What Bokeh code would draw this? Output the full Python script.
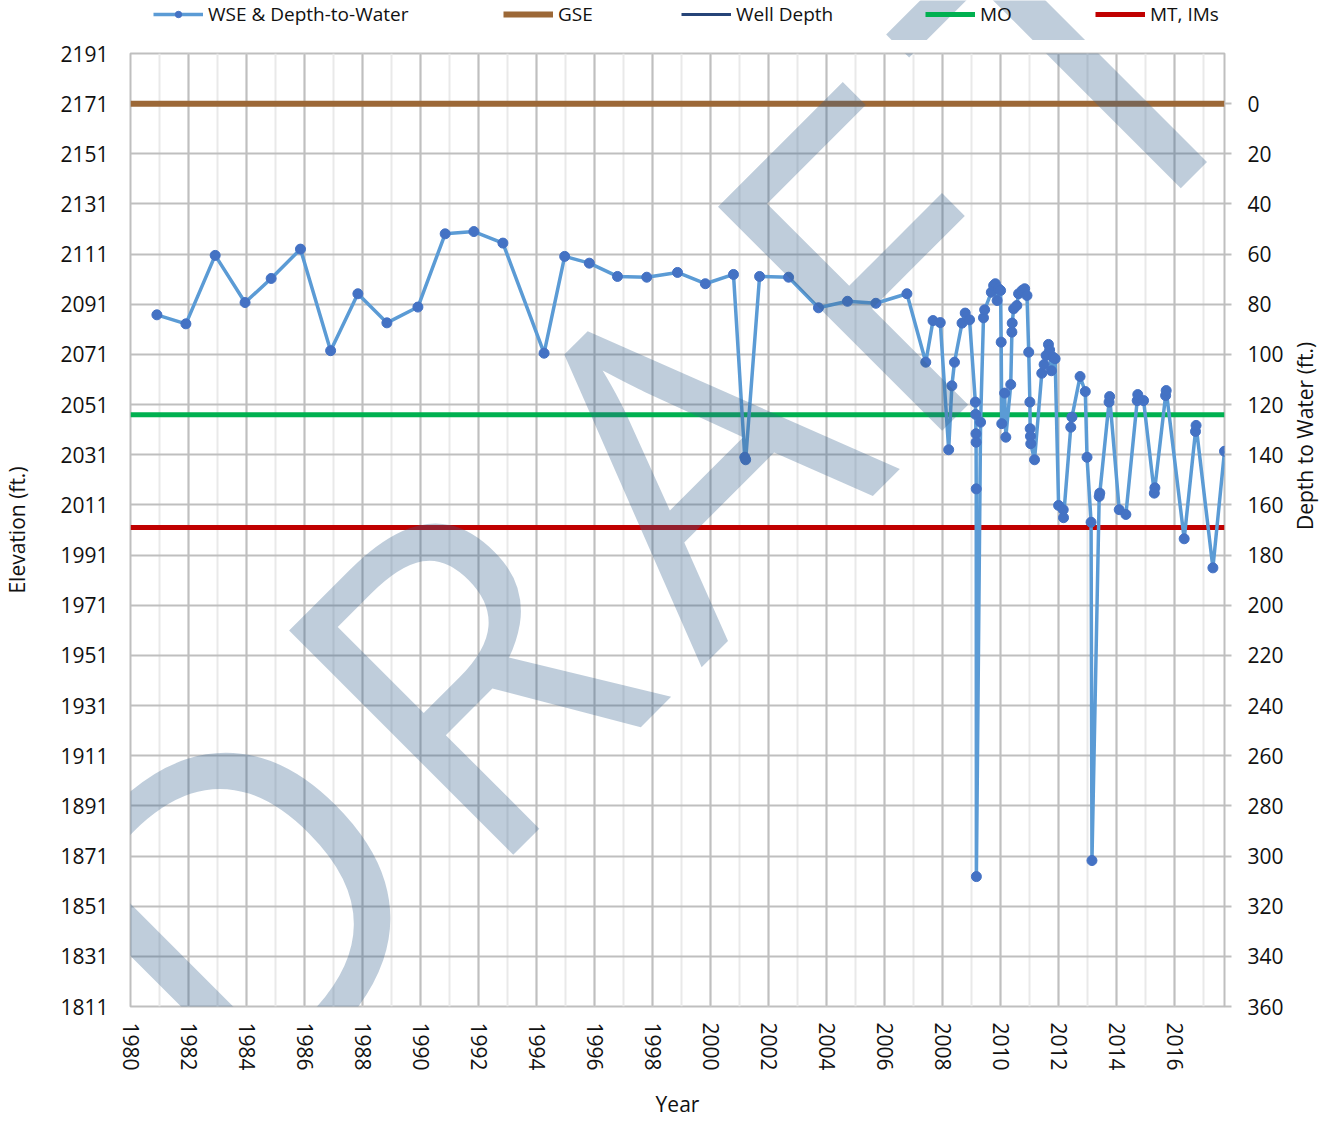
import math
from bokeh.plotting import figure
from bokeh.layouts import column
from bokeh.models import (Range1d, LinearAxis, FixedTicker, Legend, LegendItem,
                          Label, ColumnDataSource)
from bokeh.embed import file_html
from bokeh.resources import INLINE

# ---------------- data ----------------
years = [
    1980.91, 1981.91, 1982.92, 1983.95, 1984.85, 1985.86, 1986.90, 1987.84, 1988.84, 1989.91,
    1990.85, 1991.84, 1992.84, 1994.26, 1994.97, 1995.82, 1996.79, 1997.80, 1998.86, 1999.82,
    2000.79, 2001.18, 2001.21, 2001.69, 2002.69, 2003.72, 2004.72, 2005.70, 2006.77,
    2007.42, 2007.67, 2007.92, 2008.21, 2008.32, 2008.41, 2008.67, 2008.78, 2008.93,
    2009.13, 2009.14, 2009.15, 2009.155, 2009.16, 2009.165, 2009.31, 2009.41, 2009.45,
    2009.68, 2009.76, 2009.82, 2009.88, 2009.93, 2010.00, 2010.02, 2010.04, 2010.14, 2010.18,
    2010.35, 2010.39, 2010.40, 2010.45, 2010.56, 2010.62, 2010.74, 2010.83, 2010.91, 2010.97,
    2011.01, 2011.02, 2011.03, 2011.04, 2011.17, 2011.42, 2011.50, 2011.57, 2011.65, 2011.69,
    2011.75, 2011.81, 2011.88,
    2012.00, 2012.16, 2012.17, 2012.42, 2012.46, 2012.74, 2012.92, 2012.98, 2013.12, 2013.15,
    2013.40, 2013.42, 2013.74, 2013.76, 2014.09, 2014.32, 2014.71, 2014.73, 2014.93, 2015.30,
    2015.32,
    2015.69, 2015.71, 2016.33, 2016.72, 2016.74, 2017.32, 2017.72,
]
wse = [
    2086.8, 2083.2, 2110.5, 2091.7, 2101.3, 2113.0, 2072.5, 2095.2, 2083.6, 2089.9,
    2119.1, 2120.0, 2115.4, 2071.5, 2110.1, 2107.4, 2102.1, 2101.8, 2103.7, 2099.2,
    2102.9, 2030.0, 2029.0, 2102.1, 2101.8, 2089.6, 2092.2, 2091.4, 2095.2,
    2067.9, 2084.5, 2083.7, 2033.0, 2058.5, 2067.9, 2083.5, 2087.5, 2084.8,
    2052.0, 2047.1, 2039.4, 2036.0, 2017.4, 1862.8, 2044.0, 2085.6, 2088.8,
    2095.8, 2098.5, 2099.2, 2092.5, 2097.2, 2096.5, 2075.9, 2043.4, 2055.6, 2038.0,
    2059.0, 2079.9, 2083.5, 2089.2, 2090.5, 2095.2, 2096.5, 2097.2, 2094.5, 2071.9,
    2052.0, 2041.4, 2038.4, 2035.4, 2029.0, 2063.5, 2067.0, 2070.6, 2075.0, 2072.8,
    2064.5, 2069.9, 2069.3,
    2010.8, 2009.1, 2005.9, 2042.0, 2046.0, 2062.2, 2056.2, 2030.0, 2004.1, 1869.2,
    2014.4, 2015.7, 2052.0, 2054.2, 2009.1, 2007.2, 2052.6, 2055.0, 2052.6, 2015.7,
    2017.8,
    2054.6, 2056.6, 1997.5, 2040.3, 2042.7, 1985.9, 2032.4,
]
GSE = 2171          # ground surface elevation
MO = 2047           # measurable objective
MT = 2002           # minimum threshold / interim milestones

series_labels = ["WSE & Depth-to-Water", "GSE", "Well Depth", "MO", "MT, IMs"]

x_start, x_end = 1980, years[-1]
y_bottom, y_top = 1811, 2191
elev_ticks = list(range(1811, 2192, 20))
depth_ticks = list(range(0, 361, 20))
year_major = list(range(1980, 2018, 2))
year_minor = list(range(1980, 2018))

FONT = "Open Sans"
TXT = "#111111"
GRID = "#BFBFBF"
C_WSE_LINE, C_WSE_MARK = "#5B9BD5", "#4472C4"
C_GSE, C_WELL, C_MO, C_MT = "#9C6837", "#264478", "#00B050", "#C00000"
WM_COLOR, WM_ALPHA, WM_SIZE = "#38638F", 0.32, "444px"

frame_w, frame_h = 1094, 953
BORDER_L, BORDER_R = 128, 100
LEG_H = 40          # height of the legend strip above the chart
TOP_PAD = 13        # space between legend strip and frame

# ---------------- main chart ----------------
p = figure(frame_width=frame_w, frame_height=frame_h,
           x_range=Range1d(x_start, x_end), y_range=Range1d(y_bottom, y_top),
           output_backend="svg", toolbar_location=None,
           min_border_left=BORDER_L, min_border_right=BORDER_R,
           min_border_top=TOP_PAD, min_border_bottom=100)
p.background_fill_color = "white"
p.border_fill_color = "white"
p.outline_line_color = GRID
p.outline_line_width = 2

p.xaxis.ticker = FixedTicker(ticks=year_major, minor_ticks=year_minor)
p.yaxis.ticker = FixedTicker(ticks=elev_ticks)
p.xgrid.grid_line_color = GRID
p.xgrid.grid_line_width = 2
p.xgrid.minor_grid_line_color = "#E9E9E9"
p.xgrid.minor_grid_line_width = 2
p.ygrid.grid_line_color = GRID
p.ygrid.grid_line_width = 2

ax = p.yaxis[0]
ax.axis_label = "Elevation (ft.)"
ax.axis_line_color = None
ax.major_tick_line_color = None
ax.major_tick_out = 0
ax.major_tick_in = 0
ax.minor_tick_line_color = None
ax.minor_tick_out = 0
ax.major_label_standoff = 22
ax.axis_label_standoff = 26

bx = p.xaxis[0]
bx.axis_label = "Year"
bx.axis_line_color = None
bx.major_tick_line_color = None
bx.major_tick_out = 0
bx.major_tick_in = 0
bx.minor_tick_line_color = None
bx.minor_tick_out = 0
bx.major_label_orientation = "vertical"
bx.major_label_standoff = 16
bx.axis_label_standoff = 16

p.extra_y_ranges = {"depth": Range1d(start=GSE - y_bottom, end=GSE - y_top)}
rx = LinearAxis(y_range_name="depth", ticker=FixedTicker(ticks=depth_ticks),
                axis_label="Depth to Water (ft.)")
rx.axis_line_color = None
rx.major_tick_in = 0
rx.major_tick_out = 7
rx.major_tick_line_color = GRID
rx.major_tick_line_width = 2
rx.minor_tick_line_color = None
rx.minor_tick_out = 0
rx.major_label_standoff = 16
rx.axis_label_standoff = 18
rx.axis_label_orientation = math.pi / 2
p.add_layout(rx, "right")

for a in (ax, bx, rx):
    a.major_label_text_font = FONT
    a.major_label_text_font_size = "21px"
    a.major_label_text_color = TXT
    a.axis_label_text_font = FONT
    a.axis_label_text_font_size = "21px"
    a.axis_label_text_font_style = "normal"
    a.axis_label_text_color = TXT

p.line([x_start, x_end], [GSE, GSE], line_color=C_GSE, line_width=6)
p.line([x_start, x_end], [MO, MO], line_color=C_MO, line_width=5)
p.line([x_start, x_end], [MT, MT], line_color=C_MT, line_width=5)
src = ColumnDataSource(dict(x=years, y=wse))
p.line("x", "y", source=src, line_color=C_WSE_LINE, line_width=3.5)
p.scatter("x", "y", source=src, size=10, fill_color=C_WSE_MARK, line_color=C_WSE_MARK)

# watermark "DRAFT": anchors as pixel offsets from the frame's top-left corner
def frame_px_to_data(px, py):
    return (x_start + px / frame_w * (x_end - x_start),
            y_top - py / frame_h * (y_top - y_bottom))

wm_letters = [("D", 102.5, 838.5), ("R", 327.0, 613.0), ("A", 548.4, 392.6),
              ("F", 740.0, 205.0), ("T", 941.5, -0.5)]

def wm_label(ch, x, y):
    return Label(x=x, y=y, text=ch, angle=math.pi / 4,
                 text_align="center", text_baseline="alphabetic",
                 text_font=FONT, text_font_size=WM_SIZE,
                 text_color=WM_COLOR, text_alpha=WM_ALPHA)

for ch, px, py in wm_letters:
    xd, yd = frame_px_to_data(px, py)
    p.add_layout(wm_label(ch, xd, yd))

# ---------------- legend strip (frame aligned with the chart frame) ----------------
lg = figure(frame_width=frame_w, frame_height=LEG_H,
            x_range=Range1d(0, frame_w), y_range=Range1d(LEG_H, 0),
            output_backend="svg", toolbar_location=None,
            x_axis_type=None, y_axis_type=None,
            min_border_left=BORDER_L, min_border_right=BORDER_R,
            min_border_top=0, min_border_bottom=0)
lg.outline_line_color = None
lg.xgrid.visible = False
lg.ygrid.visible = False

nan = float("nan")
g_wse_l = lg.line(x=[nan], y=[nan], line_color=C_WSE_LINE, line_width=3.5)
g_wse_m = lg.scatter(x=[nan], y=[nan], size=10, fill_color=C_WSE_MARK, line_color=C_WSE_MARK)
g_gse = lg.line(x=[nan], y=[nan], line_color=C_GSE, line_width=6)
g_well = lg.line(x=[nan], y=[nan], line_color=C_WELL, line_width=3)
g_mo = lg.line(x=[nan], y=[nan], line_color=C_MO, line_width=5)
g_mt = lg.line(x=[nan], y=[nan], line_color=C_MT, line_width=5)

legend_spec = [
    (series_labels[0], [g_wse_l, g_wse_m], 23),
    (series_labels[1], [g_gse], 373),
    (series_labels[2], [g_well], 551),
    (series_labels[3], [g_mo], 795),
    (series_labels[4], [g_mt], 965),
]
for lab, rends, off in legend_spec:
    lg.add_layout(Legend(items=[LegendItem(label=lab, renderers=rends)],
                         location=(off, 13), orientation="horizontal",
                         background_fill_alpha=0, border_line_alpha=0,
                         padding=0, margin=0, spacing=0,
                         glyph_width=50, glyph_height=16, label_height=16,
                         label_standoff=5, label_text_font=FONT,
                         label_text_font_size="19px", label_text_color=TXT))

# the part of the watermark "T" that lies above the chart frame
t_ch, t_px, t_py = wm_letters[-1]
lg.add_layout(wm_label(t_ch, t_px, LEG_H + TOP_PAD + t_py))

layout = column(lg, p, spacing=0)
open("out.html", "w").write(file_html(layout, INLINE))
